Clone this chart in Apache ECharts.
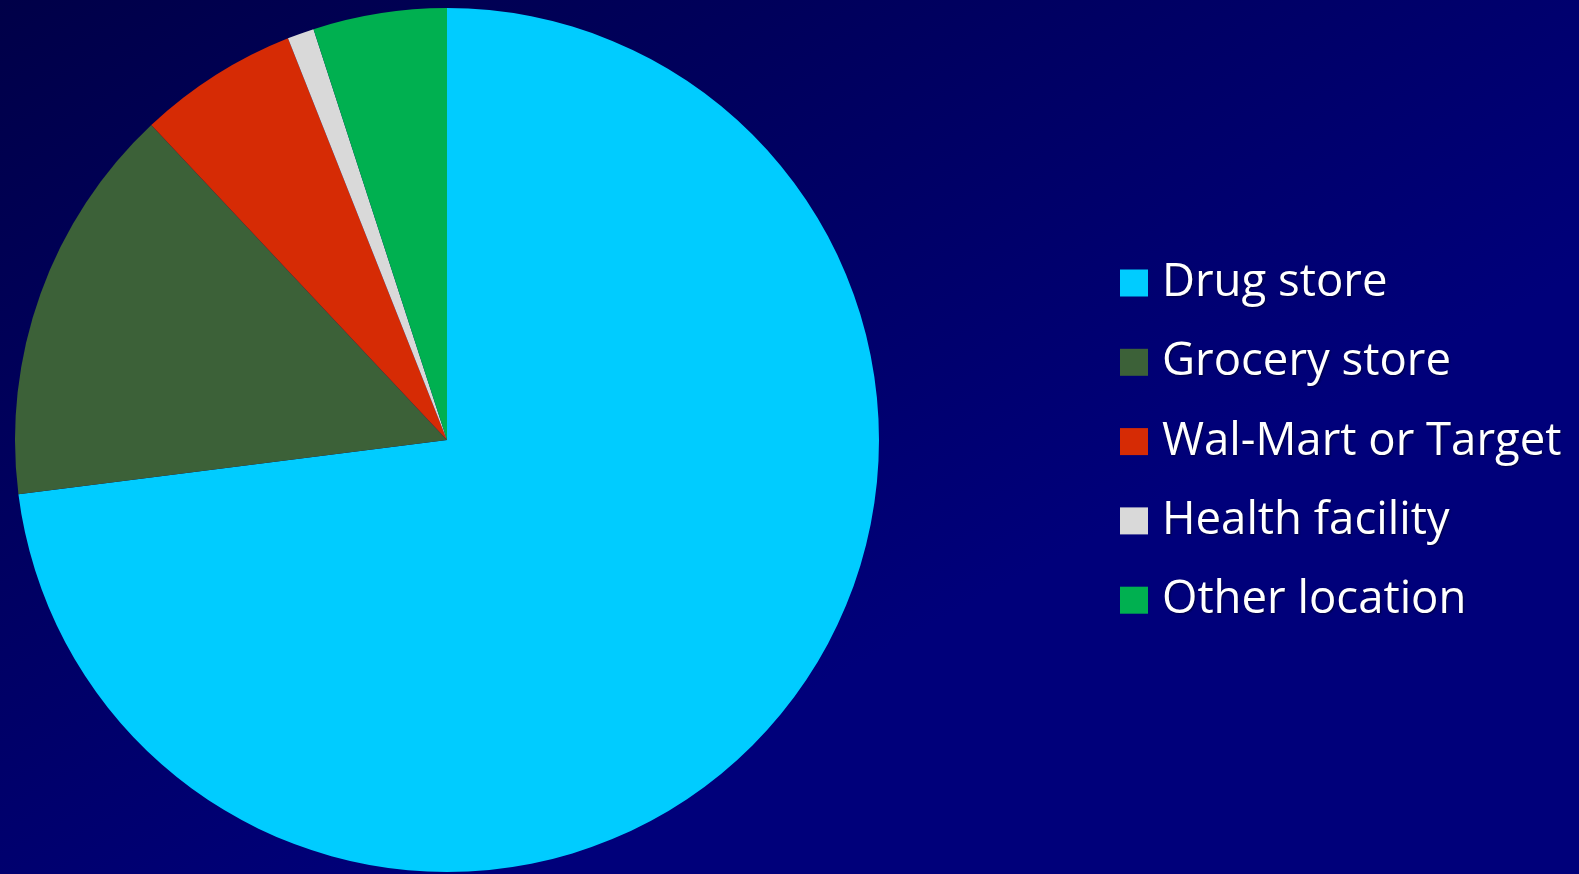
<!DOCTYPE html>
<html>
<head>
<meta charset="utf-8">
<script src="https://cdn.jsdelivr.net/npm/echarts@6/dist/echarts.min.js"></script>
<style>
html,body{margin:0;padding:0;width:1579px;height:874px;overflow:hidden;background:#000060;}
#chart{width:1579px;height:874px;}
</style>
</head>
<body>
<div id="chart"></div>
<script>
const categories = ["Drug store", "Grocery store", "Wal-Mart or Target", "Health facility", "Other location"];
const values = [73, 15, 6, 1, 5];
const colors = ["#00CCFF", "#3C6138", "#D62B05", "#D9D9D9", "#00B050"];

const chart = echarts.init(document.getElementById('chart'), null, {renderer: 'canvas'});
chart.setOption({
  animation: false,
  backgroundColor: {
    type: 'linear', x: 0, y: 0, x2: 0.3, y2: 1,
    colorStops: [{offset: 0, color: '#000048'}, {offset: 1, color: '#00007A'}]
  },
  legend: {
    orient: 'vertical',
    left: 1115,
    top: 253,
    icon: 'rect',
    itemWidth: 28,
    itemHeight: 27,
    itemGap: 29.3,
    data: categories,
    textStyle: {
      color: '#FFFFFF',
      fontFamily: 'Open Sans',
      fontSize: 45.5,
      lineHeight: 50,
      padding: [0, 0, 0, 9],
      textShadowColor: 'rgba(0,0,0,0.5)',
      textShadowBlur: 2,
      textShadowOffsetX: 1,
      textShadowOffsetY: 1
    }
  },
  series: [{
    type: 'pie',
    center: [447, 440],
    radius: [0, 432],
    startAngle: 90,
    clockwise: true,
    label: {show: false},
    labelLine: {show: false},
    emphasis: {disabled: true},
    itemStyle: {borderWidth: 0},
    data: categories.map((c, i) => ({name: c, value: values[i], itemStyle: {color: colors[i]}}))
  }]
});
</script>
</body>
</html>
